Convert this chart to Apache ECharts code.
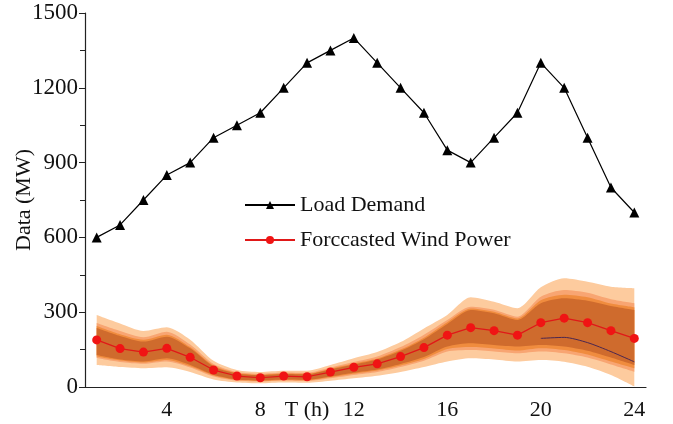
<!DOCTYPE html>
<html>
<head>
<meta charset="utf-8">
<script src="https://cdn.jsdelivr.net/npm/echarts@6/dist/echarts.min.js"></script>
<style>
html, body { margin: 0; padding: 0; background: #fff; }
#chart1 { width: 673px; height: 424px; }
</style>
</head>
<body>
<div id="chart1"></div>
<script>
var hours = ['1','2','3','4','5','6','7','8','9','10','11','12','13','14','15','16','17','18','19','20','21','22','23','24'];
var loadDemand = [600,650,750,850,900,1000,1050,1100,1200,1300,1350,1400,1300,1200,1100,950,900,1000,1100,1300,1200,1000,800,700];
var windForecast = [189,154,140,155,119,68,44,37,44,41,60,79,93,122,158,208,238,226,208,258,276,258,226,195];

// uncertainty bands, outer -> inner
var outerUp = [289,255,225,240,190,105,68,60,65,65,88,115,140,180,235,289,360,342,316,400,436,422,402,396];
var outerLow = [88,80,75,79,60,30,18,15,18,17,25,35,45,60,80,102,115,110,102,108,101,81,48,2];
var midUp = [257,225,200,222,170,92,60,53,58,57,78,100,122,160,210,269,322,310,282,362,389,378,352,336];
var midLow = [116,100,93,102,78,42,25,22,25,24,35,48,60,80,105,142,148,142,135,142,135,118,90,61];
var orangeUp = [245,212,190,210,160,86,56,49,54,53,73,94,114,150,198,260,315,302,275,348,370,360,335,320];
var orangeLow = [122,106,98,108,83,46,28,24,28,27,39,53,66,86,112,152,160,154,146,155,148,130,102,75];
var innerUp = [237,205,182,202,155,82,54,47,52,51,70,90,110,145,192,253,309,296,269,336,356,346,325,309];
var innerLow = [128,110,102,115,88,49,30,26,30,29,42,57,70,92,120,162,175,168,162,168,162,145,118,88];
var lowerTrace = [null,null,null,null,null,null,null,null,null,null,null,null,null,null,null,null,null,null,null,195,199,178,142,101];

var serifFont = 'Liberation Serif';

function band(name, up, low, color) {
	var diff = up.map(function (v, i) { return v - low[i]; });
	return [{
		name: name + '_base',
		type: 'line',
		stack: name,
		data: low,
		symbol: 'none',
		smooth: 0.25,
		silent: true,
		lineStyle: { width: 0, opacity: 0 }
	}, {
		name: name,
		type: 'line',
		stack: name,
		data: diff,
		symbol: 'none',
		smooth: 0.25,
		silent: true,
		lineStyle: { width: 0, opacity: 0 },
		areaStyle: { color: color, opacity: 1 }
	}];
}

var series = [].concat(
	band('outer', outerUp, outerLow, '#fdcb9e'),
	band('mid', midUp, midLow, '#f8a572'),
	band('orange', orangeUp, orangeLow, '#f08c3e'),
	band('inner', innerUp, innerLow, '#cf6b2d')
);

series.push({
	name: 'trace',
	type: 'line',
	data: lowerTrace,
	symbol: 'none',
	smooth: 0.25,
	silent: true,
	lineStyle: { color: '#4a2650', width: 1 }
});
series.push({
	name: 'Forccasted Wind Power',
	type: 'line',
	data: windForecast,
	symbol: 'circle',
	symbolSize: 9,
	color: '#f01414',
	lineStyle: { color: '#e01818', width: 1.2 },
	z: 5
});
series.push({
	name: 'Load Demand',
	type: 'line',
	data: loadDemand,
	symbol: 'triangle',
	symbolSize: 10,
	color: '#000',
	lineStyle: { color: '#000', width: 1.2 },
	z: 5
});

var option = {
	animation: false,
	backgroundColor: '#fff',
	grid: { left: 85, right: 27, top: 13, bottom: 37, outerBoundsMode: 'none', containLabel: false },
	legend: {
		orient: 'vertical',
		left: 239,
		top: 189,
		itemWidth: 50,
		itemHeight: 10,
		itemGap: 13,
		data: ['Load Demand', 'Forccasted Wind Power'],
		textStyle: { fontFamily: serifFont, fontSize: 22, color: '#111' }
	},
	xAxis: {
		type: 'category',
		data: hours,
		boundaryGap: true,
		axisLine: { lineStyle: { color: '#222', width: 1.2 } },
		axisTick: { alignWithLabel: true, interval: 0, length: 5, lineStyle: { color: '#222' } },
		axisLabel: {
			interval: 0,
			margin: 12,
			fontFamily: serifFont,
			fontSize: 22,
			color: '#111',
			formatter: function (v) {
				if (v === '10') return 'T (h)';
				return (+v % 4 === 0) ? v : '';
			}
		}
	},
	yAxis: {
		type: 'value',
		min: 0,
		max: 1500,
		interval: 300,
		name: 'Data (MW)',
		nameLocation: 'middle',
		nameGap: 50,
		nameMoveOverlap: false,
		nameTextStyle: { fontFamily: serifFont, fontSize: 22, color: '#111' },
		axisLine: { show: true, lineStyle: { color: '#222', width: 1.2 } },
		axisTick: { show: true, length: 6, lineStyle: { color: '#222' } },
		minorTick: { show: true, splitNumber: 2, length: 5, lineStyle: { color: '#222' } },
		splitLine: { show: false },
		axisLabel: {
			fontFamily: serifFont,
			fontSize: 23,
			color: '#111',
			margin: 7,
			formatter: function (v) { return String(v); }
		}
	},
	series: series
};

var chart1 = echarts.init(document.getElementById('chart1'));
chart1.setOption(option);
</script>
</body>
</html>
